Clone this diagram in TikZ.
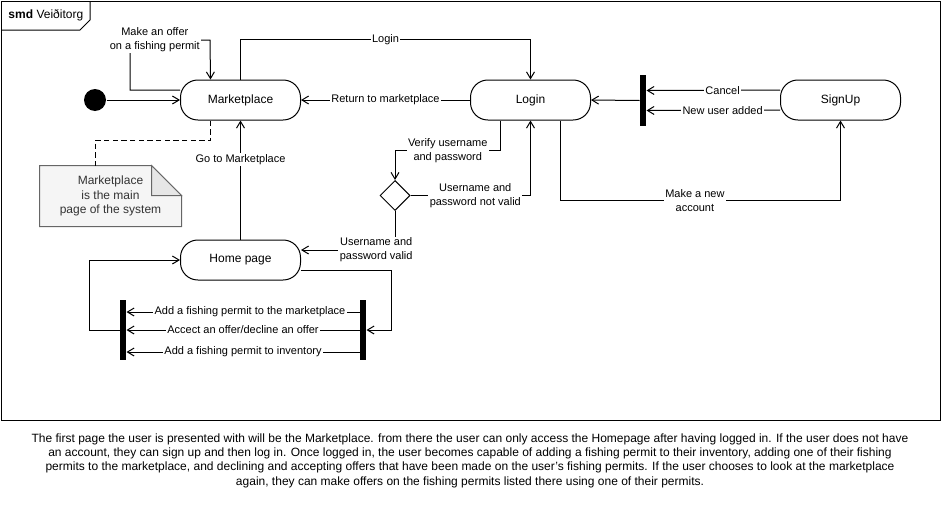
\documentclass[tikz,border=0pt]{standalone}
\usepackage{fontspec}
\setmainfont{Liberation Sans}
\usetikzlibrary{arrows.meta,shapes.geometric,backgrounds,calc}
\definecolor{notefill}{HTML}{F5F5F5}
\definecolor{notefold}{HTML}{E6E6E6}
\definecolor{noteline}{HTML}{666666}
\definecolor{notetext}{HTML}{333333}
\begin{document}
\begin{tikzpicture}[x=0.75pt,y=-0.75pt,
  line width=0.75pt,
  >={Straight Barb[length=5pt,width=6pt]},
  state/.style={draw,rounded corners=13pt,minimum width=90pt,minimum height=30pt,
    inner sep=0pt,font=\fontsize{9}{11}\selectfont},
  elabel/.style={fill=white,inner sep=1pt,align=center,
    font=\fontsize{8.25}{10.5}\selectfont},
  syncbar/.style={fill=black,draw=none,inner sep=0pt,minimum width=4.5pt},
  startdot/.style={circle,fill=black,inner sep=0pt,minimum size=16.5pt},
  choice/.style={diamond,draw,inner sep=0pt,minimum width=22.5pt,minimum height=22.5pt},
  notebox/.style={inner sep=0pt,minimum width=105.75pt,minimum height=45pt,align=center,
    text=notetext,font=\fontsize{9}{10.9}\selectfont},
  noteline/.style={draw=noteline,line width=0.75pt},
  linkline/.style={dashed,dash pattern=on 4pt off 2.5pt},
]
\useasboundingbox (0,0) rectangle (942,521);

% frame with its name tab
\draw (1,1) rectangle (940,420);
\draw (1,30) -- (80,30) -- (90,20) -- (90,1);
\node[anchor=west,inner sep=0pt,font=\fontsize{9}{11}\selectfont] (title) at (8,15) {\textbf{smd} Veiðitorg};

% states
\node[startdot] (init) at (95,100) {};
\node[state] (mkt) at (240.5,100) {Marketplace};
\node[state] (login) at (530.5,100) {Login};
\node[state] (signup) at (840.5,100) {SignUp};
\node[state] (home) at (240.5,260) {Home page};
\node[choice] (dec) at (395,195.5) {};
\node[syncbar,minimum height=38.25pt] (bar1) at (643,100.5) {};
\node[syncbar,minimum height=45pt] (barL) at (123,330) {};
\node[syncbar,minimum height=45pt] (barR) at (363,330) {};

% comment note
\node[notebox] (note) at (110.5,196) {Marketplace\\is the main\\page of the system};
\begin{scope}[on background layer]
  \draw[noteline,fill=notefill] (note.north west) -- ([xshift=-22.5pt]note.north east)
    -- ([yshift=-22.5pt]note.north east) -- (note.south east) -- (note.south west) -- cycle;
  \draw[noteline,fill=notefold] ([xshift=-22.5pt]note.north east)
    -- ([xshift=-22.5pt,yshift=-22.5pt]note.north east) -- ([yshift=-22.5pt]note.north east) -- cycle;
\end{scope}
\draw[linkline] ([xshift=-22.5pt]mkt.south) -- ++(0,20) -| ([xshift=-11.6pt]note.north);

% transitions
\draw[->] (init) -- (mkt);
\draw[->] ([yshift=7.5pt]mkt.west) -- ++(-50,0) -- ++(0,-50)
  -- node[elabel,pos=0.31]{Make an offer\\on a fishing permit} ++(80,0)
  -- ([xshift=-22.5pt]mkt.north);
\draw[->] (mkt.north) -- ++(0,-40) -| node[elabel,pos=0.25]{Login} (login.north);
\draw[->] (login.west) -- node[elabel]{Return to marketplace} (mkt.east);
\draw[->] (bar1.west) -- (login.east);
\draw[->] ([yshift=7.5pt]signup.west) -- node[elabel,pos=0.43]{Cancel} ([yshift=7.5pt]bar1.east);
\draw[->] ([yshift=-7.5pt]signup.west) -- node[elabel,pos=0.43]{New user added} ([yshift=-7.5pt]bar1.east);
\draw[->] ([xshift=-22.5pt]login.south) -- ++(0,30)
  -| node[elabel,pos=0.25]{Verify username\\and password} (dec.north);
\draw[->] (dec.east) -| node[elabel,pos=0.27]{Username and\\password not valid} (login.south);
\draw[->] (dec.south) |- node[elabel,pos=0.6]{Username and\\password valid} ([yshift=7.5pt]home.east);
\draw[->] ([xshift=22.5pt]login.south) -- ++(0,80)
  -| node[elabel,pos=0.24]{Make a new\\account} (signup.south);
\draw[->] (home.north) -- node[elabel,pos=0.67]{Go to Marketplace} (mkt.south);
\draw[->] ([yshift=-7.5pt]home.east) -- ++(90,0) |- (barR.east);
\draw[->] ([yshift=13.5pt]barR.west) -- node[elabel,pos=0.47]{Add a fishing permit to the marketplace} ([yshift=13.5pt]barL.east);
\draw[->] (barR.west) -- node[elabel]{Accect an offer/decline an offer} (barL.east);
\draw[->] ([yshift=-16.5pt]barR.west) -- node[elabel]{Add a fishing permit to inventory} ([yshift=-16.5pt]barL.east);
\draw[->] (barL.west) -- ++(-30,0) |- (home.west);

% description below the frame
\node[align=center,inner sep=0pt,font=\fontsize{9}{10.7}\selectfont] (desc) at (470,460.5)
{The first page the user is presented with will be the Marketplace. from there the user can only access the Homepage after having logged in. If the user does not have\\
an account, they can sign up and then log in. Once logged in, the user becomes capable of adding a fishing permit to their inventory, adding one of their fishing\\
permits to the marketplace, and declining and accepting offers that have been made on the user's fishing permits. If the user chooses to look at the marketplace\\
again, they can make offers on the fishing permits listed there using one of their permits.};
\end{tikzpicture}
\end{document}
